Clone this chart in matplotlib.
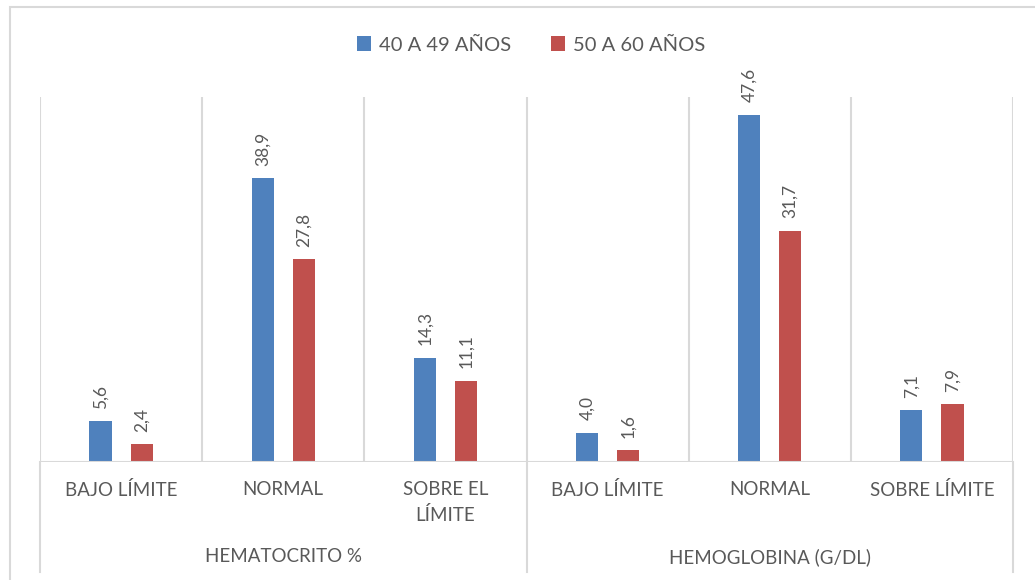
import matplotlib.pyplot as plt
from matplotlib.lines import Line2D
from matplotlib.patches import Rectangle

plt.rcParams['font.family'] = ['Lato', 'DejaVu Sans']

# data
categories = ['BAJO LÍMITE', 'NORMAL', 'SOBRE EL\nLÍMITE', 'BAJO LÍMITE', 'NORMAL', 'SOBRE LÍMITE']
groups = ['HEMATOCRITO %', 'HEMOGLOBINA (G/DL)']
series_names = ['40 A 49 AÑOS', '50 A 60 AÑOS']
values_40_49 = [5.6, 38.9, 14.3, 4.0, 47.6, 7.1]
values_50_60 = [2.4, 27.8, 11.1, 1.6, 31.7, 7.9]
colors = ['#4F81BD', '#C0504D']

grid_color = '#D9D9D9'
text_color = '#595959'

fig = plt.figure(figsize=(10.35, 5.8), dpi=100)
W, H = 1035, 580
left, right, top, base = 40, 1013, 97, 462
ax = fig.add_axes([left / W, 1 - base / H, (right - left) / W, (base - top) / H])

# chart border
fig.patches.append(Rectangle((10 / W, -0.1), 1.1, 1 - 7 / H + 0.1, transform=fig.transFigure,
                             fill=False, edgecolor=grid_color, lw=1.5))

n = len(categories)
x = list(range(n))
bw = 0.136
off = 0.127
for vals, sign, col, name in [(values_40_49, -1, colors[0], series_names[0]),
                              (values_50_60, 1, colors[1], series_names[1])]:
    xs = [i + sign * off for i in x]
    ax.bar(xs, vals, width=bw, color=col, label=name, zorder=3)
    for xi, v in zip(xs, vals):
        ax.annotate(('%.1f' % v).replace('.', ','), (xi, v), xytext=(0, 9),
                    textcoords='offset points', rotation=90, ha='center', va='bottom',
                    fontsize=12.5, color=text_color)

ax.set_xlim(-0.5, n - 0.5)
ax.set_ylim(0, 50)
for s in ax.spines.values():
    s.set_visible(False)
ax.set_xticks([])
ax.set_yticks([])

# category separators
for i in range(n + 1):
    ax.axvline(i - 0.5, color=grid_color, lw=1.5, zorder=1)
ax.axhline(0, color=grid_color, lw=1.5, zorder=4)

# group separators extend down
trans = ax.get_xaxis_transform()
for gx in [-0.5, 2.5, 5.5]:
    ax.add_line(Line2D([gx, gx], [0, -(572 - base) / (base - top)], transform=trans,
                       color=grid_color, lw=1.5, clip_on=False))

# category labels
for i, c in enumerate(categories):
    ax.text(i, -(481 - base) / (base - top), c, transform=trans, ha='center', va='top',
            fontsize=13.5, color=text_color, linespacing=1.55)
for g, name in enumerate(groups):
    ax.text(g * 3 + 1, -(557 - base) / (base - top), name, transform=trans, ha='center',
            va='center', fontsize=13.5, color=text_color)

fig.legend(loc='center', bbox_to_anchor=(531 / W, 1 - 45 / H), ncol=2, frameon=False,
           fontsize=14.5, labelcolor=text_color, handlelength=0.7, handleheight=0.7,
           handletextpad=0.4, columnspacing=2.0)

fig.savefig('out.png', dpi=100)
